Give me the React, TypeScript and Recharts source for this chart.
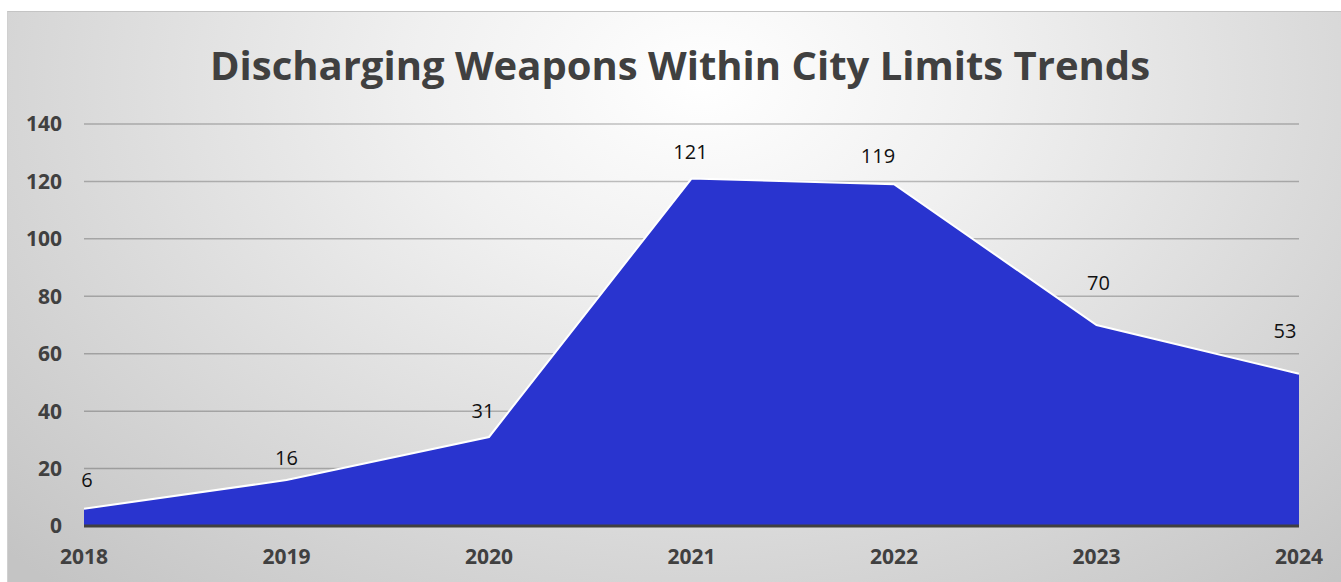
import React from 'react'
import { AreaChart, Area, XAxis, YAxis, CartesianGrid, LabelList, ReferenceLine } from 'recharts'

const years = ['2018', '2019', '2020', '2021', '2022', '2023', '2024']
const counts = [6, 16, 31, 121, 119, 70, 53]
const yTicks = [0, 20, 40, 60, 80, 100, 120, 140]

const data = years.map((year, i) => ({ year, count: counts[i] }))

const W = 1334
const H = 571
const FONT = "'Open Sans', sans-serif"

// label nudges (px) as placed in the original workbook
const labelDx = [3, 0, -6, -1, -16, 2, -14]
const labelDy = [29, 22, 26, 27, 28, 42, 43]

const renderLabel = (props: any) => {
  const { x, y, value, index } = props
  return (
    <text
      x={x + labelDx[index]}
      y={y - labelDy[index]}
      dy="0.35em"
      textAnchor="middle"
      fontSize={20}
      fontFamily={FONT}
      fill="#111"
    >
      {value}
    </text>
  )
}

export default function App() {
  return (
    <div
      style={{
        position: 'absolute',
        left: 7,
        top: 11,
        width: W,
        height: H,
        borderTop: '1px solid #c4c4c4',
        borderLeft: '1px solid #d0d0d0',
        boxSizing: 'border-box',
        background:
          'radial-gradient(ellipse 72% 120% at 52% 12%, #ffffff 0%, #f0f0f0 30%, #c4c4c4 100%)',
      }}
    >
      <AreaChart
        width={W}
        height={H}
        data={data}
        margin={{ top: 113, right: 42, left: 0, bottom: 0 }}
        style={{ position: 'absolute', left: -1, top: -1 }}
      >
        <text
          x={673}
          y={69}
          textAnchor="middle"
          fontSize={40}
          fontWeight="bold"
          fontFamily={FONT}
          fill="#404040"
        >
          Discharging Weapons Within City Limits Trends
        </text>
        <CartesianGrid vertical={false} stroke="rgba(0,0,0,0.24)" strokeWidth={1.5} />
        <XAxis
          dataKey="year"
          axisLine={false}
          tickLine={false}
          tickSize={0}
          tickMargin={23}
          height={56}
          interval={0}
          padding={{ left: 0, right: 0 }}
          tick={{ fontSize: 21, fontWeight: 'bold', fill: '#404040', fontFamily: FONT }}
        />
        <YAxis
          domain={[0, 140]}
          ticks={yTicks}
          width={77}
          axisLine={false}
          tickLine={false}
          tickSize={0}
          tickMargin={22}
          interval={0}
          tick={{ fontSize: 21, fontWeight: 'bold', fill: '#404040', fontFamily: FONT }}
        />
        <Area
          type="linear"
          dataKey="count"
          stroke="#ffffff"
          strokeWidth={2}
          fill="#2934cf"
          fillOpacity={1}
          isAnimationActive={false}
          dot={false}
          activeDot={false}
        >
          <LabelList dataKey="count" content={renderLabel} />
        </Area>
        <ReferenceLine y={0} stroke="#404040" strokeWidth={3} />
      </AreaChart>
    </div>
  )
}
